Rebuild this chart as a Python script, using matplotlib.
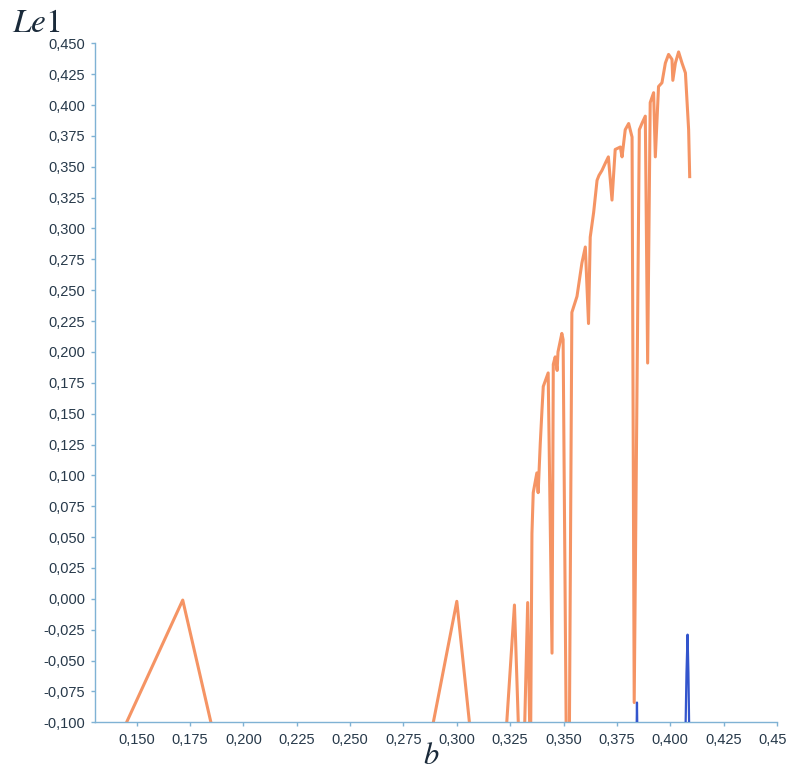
import numpy as np
import matplotlib
matplotlib.use("Agg")
import matplotlib.pyplot as plt
from matplotlib.ticker import FixedLocator, FuncFormatter

# Orange series (Le1); values below -0.1 are clipped by the axis
le1_x = [0.1400, 0.1453, 0.1716, 0.1848, 0.1870,
         0.2860, 0.2890, 0.3000, 0.3059, 0.3080,
         0.3225, 0.3234, 0.3270, 0.3288, 0.3300,
         0.3314, 0.3332, 0.3342, 0.3346, 0.3352, 0.3358, 0.3375, 0.3381, 0.3391,
         0.3399, 0.3405, 0.3428, 0.3446, 0.3452, 0.3461, 0.3470, 0.3474, 0.3480,
         0.3492, 0.3498, 0.3513, 0.3527, 0.3539, 0.3563, 0.3586, 0.3602, 0.3617,
         0.3625, 0.3641, 0.3657, 0.3666, 0.3680, 0.3696, 0.3710, 0.3727, 0.3742, 0.3766,
         0.3774, 0.3789, 0.3805, 0.3821, 0.3831, 0.3855, 0.3867, 0.3883, 0.3894,
         0.3906, 0.3922, 0.3930, 0.3945, 0.3961, 0.3977, 0.3992, 0.4008, 0.4012,
         0.4024, 0.4039, 0.4055, 0.4071, 0.4086, 0.4091]
le1_y = [-0.130, -0.100, -0.001, -0.100, -0.115,
         -0.125, -0.100, -0.002, -0.100, -0.115,
         -0.130, -0.100, -0.005, -0.100, -0.130,
         -0.130, -0.003, -0.110, -0.110, 0.053, 0.086, 0.102, 0.086, 0.126,
         0.153, 0.172, 0.183, -0.044, 0.190, 0.196, 0.185, 0.200, 0.205,
         0.215, 0.210, -0.120, -0.120, 0.232, 0.245, 0.272, 0.285, 0.223,
         0.293, 0.313, 0.339, 0.343, 0.347, 0.353, 0.358, 0.323, 0.364, 0.366,
         0.358, 0.380, 0.385, 0.374, -0.084, 0.380, 0.385, 0.391, 0.191,
         0.402, 0.410, 0.358, 0.415, 0.418, 0.434, 0.441, 0.437, 0.420,
         0.434, 0.443, 0.434, 0.426, 0.380, 0.342]

# Blue series (second exponent), visible only as spikes near the bottom
le2_x = [0.3842, 0.3844, 0.3846, np.nan, 0.4071, 0.4076, 0.4081, 0.4085, 0.4089]
le2_y = [-0.110, -0.084, -0.110, np.nan, -0.110, -0.060, -0.029, -0.060, -0.110]

xticks = [0.150, 0.175, 0.200, 0.225, 0.250, 0.275, 0.300, 0.325, 0.350,
          0.375, 0.400, 0.425, 0.450]
yticks = [round(-0.100 + 0.025 * i, 3) for i in range(23)]

W, H = 787, 767
fig = plt.figure(figsize=(W / 100, H / 100), dpi=100)
ax = fig.add_axes([95 / W, (H - 722.3) / H, (777 - 95) / W, (722.3 - 43.3) / H])

ax.plot(le1_x, le1_y, color="#f59464", lw=2.2, solid_joinstyle="round", zorder=2)
ax.plot(le2_x, le2_y, color="#3355cc", lw=1.6, zorder=3)

ax.set_xlim(0.1305, 0.450)
ax.set_ylim(-0.100, 0.450)

spine_col = "#7fb2d4"
for s in ["top", "right"]:
    ax.spines[s].set_visible(False)
for s in ["left", "bottom"]:
    ax.spines[s].set_color(spine_col)
    ax.spines[s].set_linewidth(1.0)

ax.xaxis.set_major_locator(FixedLocator(xticks))
ax.yaxis.set_major_locator(FixedLocator(yticks))
fmt = FuncFormatter(lambda v, p: ("%.3f" % v).replace(".", ",").replace("-0,000", "0,000"))
ax.xaxis.set_major_formatter(fmt)
ax.yaxis.set_major_formatter(fmt)
ax.tick_params(axis="both", direction="out", length=3, width=1.0, color=spine_col,
               labelcolor="#27394a", labelsize=10.5)
ax.tick_params(axis="x", pad=5)
ax.tick_params(axis="y", pad=4)
for lab in ax.get_xticklabels() + ax.get_yticklabels():
    lab.set_fontfamily("Liberation Sans")

plt.rcParams["mathtext.fontset"] = "stix"
fig.text(12 / W, 1 - 32 / H, r"$Le1$", fontsize=24, color="#1a2a3a",
         ha="left", va="baseline")
fig.text(431 / W, 1 - 764 / H, r"$b$", fontsize=22, color="#1a2a3a",
         ha="center", va="baseline")

fig.savefig("out.png", dpi=100)
